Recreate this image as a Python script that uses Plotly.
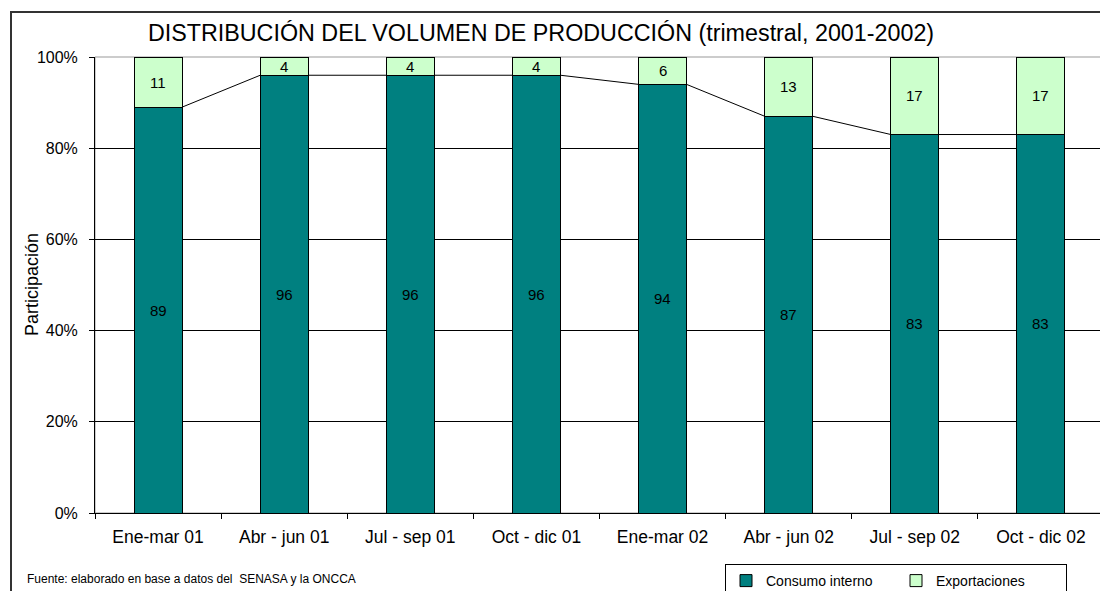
import plotly.graph_objects as go

categories = ["Ene-mar 01", "Abr - jun 01", "Jul - sep 01", "Oct - dic 01",
              "Ene-mar 02", "Abr - jun 02", "Jul - sep 02", "Oct - dic 02"]
consumo_interno = [89, 96, 96, 96, 94, 87, 83, 83]
exportaciones = [11, 4, 4, 4, 6, 13, 17, 17]

TEAL = "#008080"
LIGHT = "#CCFFCC"
FONT = "Arial, Liberation Sans, sans-serif"
BAR_W = 0.38

# page body has an 8px margin: build the figure 8px smaller and offset everything
W, H = 1100, 583
OFF = 8
PL, PR, PT, PB = 95 - OFF, 1104 - OFF, 57 - OFF, 513 - OFF   # plot area in figure px
PW, PH = PR - PL, PB - PT


def px_x(x):  # window px -> paper x
    return (x - OFF - PL) / PW


def px_y(y):  # window px -> paper y
    return (PB - (y - OFF)) / PH


fig = go.Figure()
fig.add_trace(go.Bar(
    x=categories, y=consumo_interno, name="Consumo interno",
    marker=dict(color=TEAL, line=dict(color="black", width=1)),
    width=BAR_W, textposition="none",
))
fig.add_trace(go.Bar(
    x=categories, y=exportaciones, name="Exportaciones",
    marker=dict(color=LIGHT, line=dict(color="black", width=1)),
    width=BAR_W, textposition="none",
))

# series lines joining the tops of the "Consumo interno" segments
sx, sy = [], []
for i in range(len(categories) - 1):
    sx += [i + BAR_W / 2, i + 1 - BAR_W / 2, None]
    sy += [consumo_interno[i], consumo_interno[i + 1], None]
fig.add_trace(go.Scatter(x=sx, y=sy, mode="lines", xaxis="x2",
                         line=dict(color="black", width=1),
                         showlegend=False, hoverinfo="skip"))

# value labels centred in each segment
for cat, c, e in zip(categories, consumo_interno, exportaciones):
    fig.add_annotation(x=cat, y=c / 2, text=str(c), showarrow=False,
                       font=dict(size=15, color="black"))
    fig.add_annotation(x=cat, y=c + e / 2, text=str(e), showarrow=False,
                       font=dict(size=15, color="black"))

n = len(categories)
fig.update_layout(
    width=W, height=H,
    barmode="stack",
    paper_bgcolor="white", plot_bgcolor="white",
    margin=dict(l=PL, r=W - PR, t=PT, b=H - PB, autoexpand=False),
    font=dict(family=FONT, size=15, color="black"),
    title=dict(text="DISTRIBUCIÓN DEL VOLUMEN DE PRODUCCIÓN (trimestral, 2001-2002)",
               x=(541 - OFF) / W, xref="container", xanchor="center",
               y=1 - (33 - OFF) / H, yref="container", yanchor="middle",
               font=dict(size=23.3, family=FONT, color="black")),
    xaxis=dict(type="category", range=[-0.5, n - 0.5], tickson="boundaries",
               ticks="outside", ticklen=5, tickcolor="black",
               showline=True, linecolor="black", linewidth=1,
               showgrid=False, tickfont=dict(size=17.5), ticklabelstandoff=8),
    xaxis2=dict(overlaying="x", range=[-0.5, n - 0.5], visible=False),
    yaxis=dict(range=[0, 100], dtick=20, ticksuffix="%",
               ticks="outside", ticklen=5, tickcolor="black",
               showline=True, linecolor="black", linewidth=1,
               showgrid=True, gridcolor="black", gridwidth=1,
               zeroline=False, tickfont=dict(size=16), ticklabelstandoff=8),
    legend=dict(orientation="h", x=px_x(725), y=px_y(564), xanchor="left", yanchor="top",
                bordercolor="black", borderwidth=1, bgcolor="white",
                font=dict(size=14), itemwidth=30, traceorder="normal",
                entrywidth=125, entrywidthmode="pixels"),
    showlegend=True,
)

fig.add_annotation(text="Participación", textangle=-90, x=px_x(32), y=0.5,
                   xref="paper", yref="paper", xanchor="center", yanchor="middle",
                   showarrow=False, font=dict(size=18))
fig.add_annotation(text="Fuente: elaborado en base a datos del  SENASA y la ONCCA",
                   x=px_x(25), y=px_y(579), xref="paper", yref="paper",
                   xanchor="left", yanchor="middle", showarrow=False,
                   font=dict(size=12))

# plot-area border (grey) and outer chart frame
fig.add_shape(type="rect", xref="paper", yref="paper", x0=0, y0=0, x1=1, y1=1,
              line=dict(color="#999999", width=1), layer="below")
fig.add_shape(type="rect", xref="paper", yref="paper",
              x0=px_x(11), y0=px_y(640), x1=px_x(1130), y1=px_y(12),
              line=dict(color="#333333", width=2))

fig.write_html("out.html")
